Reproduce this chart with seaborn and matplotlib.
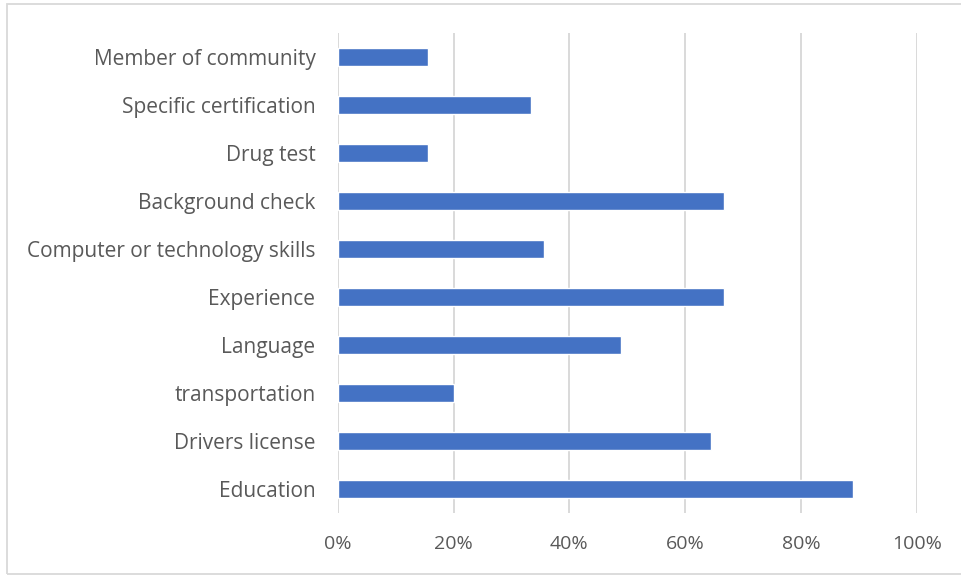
import matplotlib
matplotlib.use("Agg")
import matplotlib.pyplot as plt
import seaborn as sns
import pandas as pd
from matplotlib.ticker import FuncFormatter
from matplotlib.patches import Rectangle

# Requirements, listed top to bottom
requirements = [
    "Member of community",
    "Specific certification",
    "Drug test",
    "Background check",
    "Computer or technology skills",
    "Experience",
    "Language",
    "transportation",
    "Drivers license",
    "Education",
]
shares = [0.156, 0.333, 0.156, 0.667, 0.356, 0.667, 0.489, 0.200, 0.644, 0.889]
x_ticks = [0, 0.2, 0.4, 0.6, 0.8, 1.0]

df = pd.DataFrame({"requirement": requirements, "share": shares})

sns.set_theme(style="white")
plt.rcParams["font.family"] = ["Open Sans", "DejaVu Sans"]

fig = plt.figure(figsize=(9.61, 5.75), dpi=100)
ax = fig.add_axes([337.7 / 961, 1 - 513 / 575, (917 - 337.7) / 961, 480 / 575])

sns.barplot(data=df, x="share", y="requirement", orient="h", color="#4472C4",
            saturation=1, width=0.36, ax=ax, order=requirements)

ax.set_xlim(0, 1.0)
ax.set_xticks(x_ticks)
ax.xaxis.set_major_formatter(FuncFormatter(lambda v, _: f"{v:.0%}"))
ax.grid(axis="x", color="#D9D9D9", linewidth=1.4)
ax.set_axisbelow(True)
for s in ax.spines.values():
    s.set_visible(False)
ax.set_xlabel("")
ax.set_ylabel("")
ax.tick_params(axis="both", length=0, colors="#595959")
ax.tick_params(axis="y", pad=16, labelsize=15)
ax.tick_params(axis="x", pad=16, labelsize=14)

# Chart-area border
fig.patches.append(Rectangle((7 / 961, 1 - 574 / 575), 1.2, 570 / 575,
                             transform=fig.transFigure, fill=False,
                             edgecolor="#D9D9D9", linewidth=1.3))

fig.savefig("out.png", dpi=100)
